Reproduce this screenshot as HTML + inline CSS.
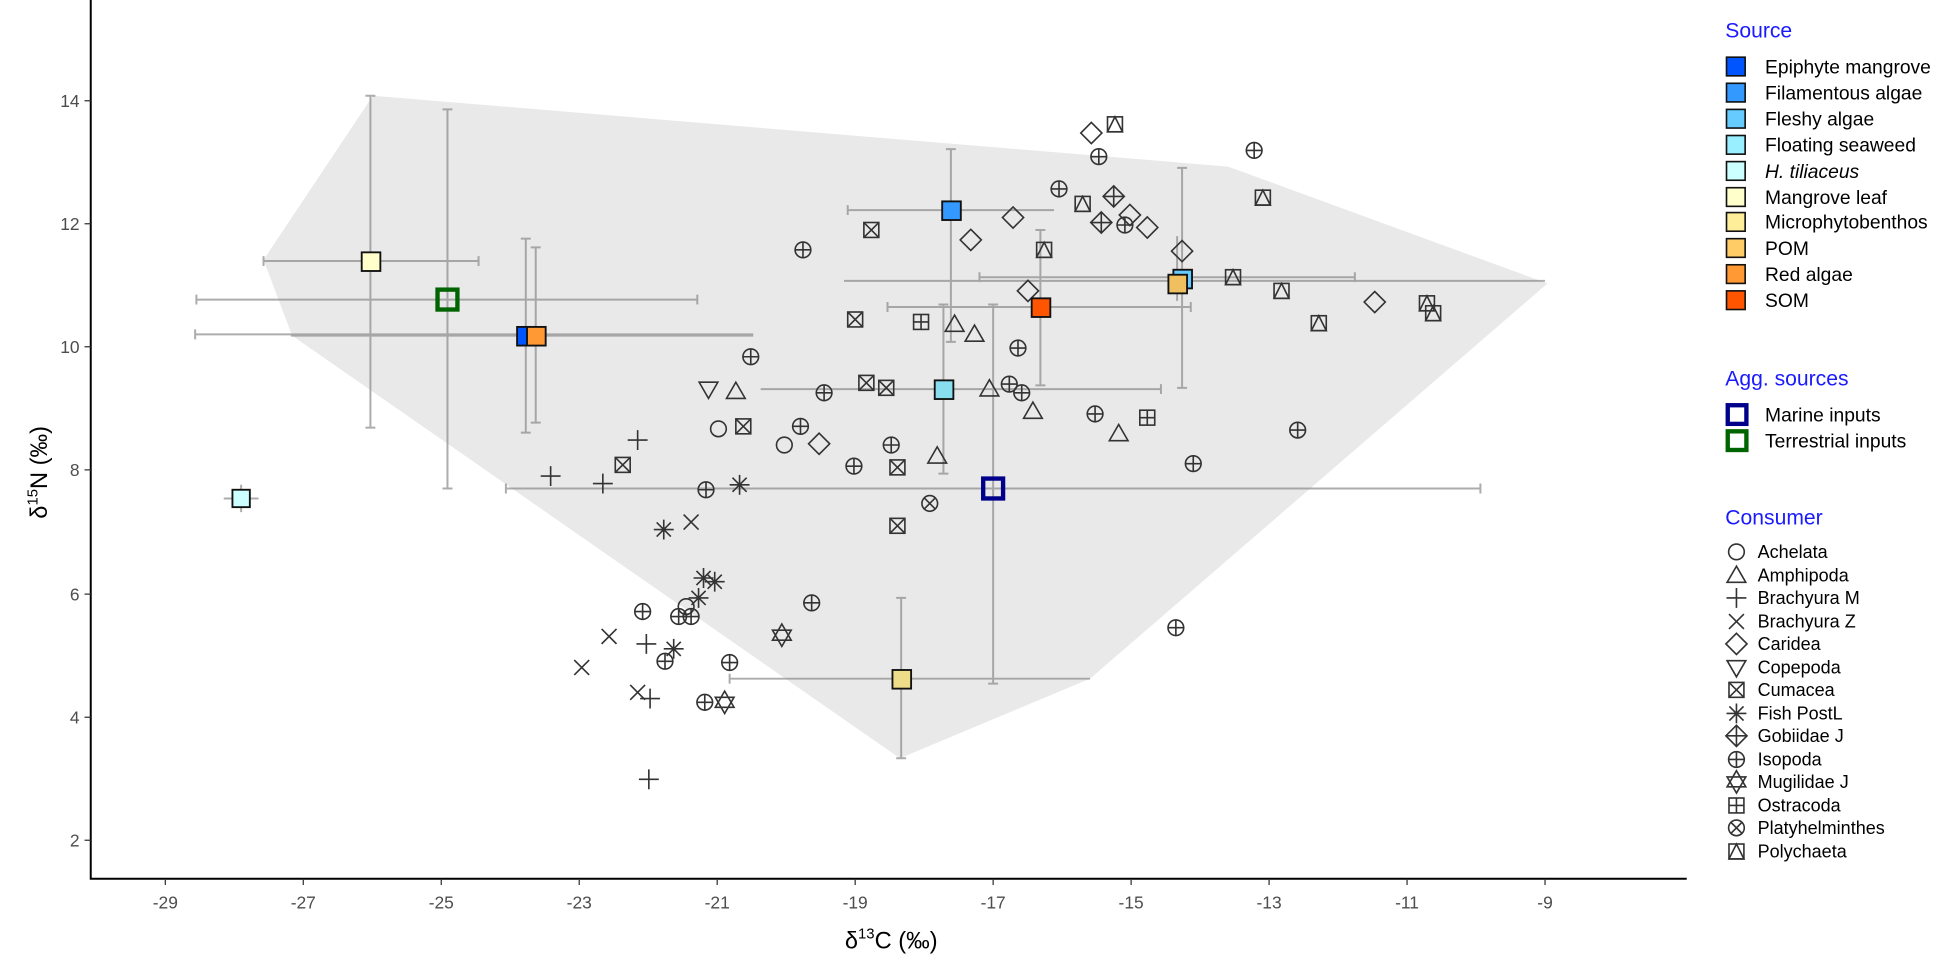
<!DOCTYPE html>
<html><head><meta charset="utf-8"><style>
html,body{margin:0;padding:0;background:#fff;}
svg{display:block;font-family:"Liberation Sans",sans-serif;}
.m{fill:none;stroke:#333;stroke-width:1.3;}
.eb{stroke:#8a8a8a;stroke-width:1.6;opacity:.7;fill:none;}
.tk{font-size:14px;fill:#4d4d4d;}
.lg{font-size:15.5px;fill:#000;}
.lc{font-size:14.5px;fill:#000;}
.tt{font-size:17px;fill:#1a1aff;}
</style></head><body>
<svg width="1949" height="958" viewBox="0 0 1568 770.7" xmlns="http://www.w3.org/2000/svg">
<defs>
<g id="circ"><circle r="6.3"/></g>
<g id="tri"><polygon points="0,-7.5 7.5,5.5 -7.5,5.5"/></g>
<g id="plus"><path d="M-8,0H8M0,-8V8"/></g>
<g id="cross"><path d="M-6,-6L6,6M-6,6L6,-6"/></g>
<g id="diam"><polygon points="0,-8.5 8.5,0 0,8.5 -8.5,0"/></g>
<g id="dtri"><polygon points="0,7.5 7.5,-5.5 -7.5,-5.5"/></g>
<g id="sqx"><rect x="-6" y="-6" width="12" height="12"/><path d="M-6,-6L6,6M-6,6L6,-6"/></g>
<g id="star"><path d="M-8,0H8M0,-8V8M-5.7,-5.7L5.7,5.7M-5.7,5.7L5.7,-5.7"/></g>
<g id="dplus"><polygon points="0,-8.5 8.5,0 0,8.5 -8.5,0"/><path d="M-8.5,0H8.5M0,-8.5V8.5"/></g>
<g id="cplus"><circle r="6.3"/><path d="M-6.3,0H6.3M0,-6.3V6.3"/></g>
<g id="star6"><polygon points="0,-9 7.5,4 -7.5,4"/><polygon points="0,9 7.5,-4 -7.5,-4"/></g>
<g id="sqplus"><rect x="-6" y="-6" width="12" height="12"/><path d="M-6,0H6M0,-6V6"/></g>
<g id="cx"><circle r="6.3"/><path d="M-4.5,-4.5L4.5,4.5M-4.5,4.5L4.5,-4.5"/></g>
<g id="sqtri"><rect x="-6" y="-6" width="12" height="12"/><polygon points="0,-6 6,6 -6,6"/></g>
</defs>

<polygon points="212,209 300,77 988,134 1245,228 877,546 724,610 235,270" fill="#e9e9e9"/>

<path d="M73,0V707H1357" stroke="#000" stroke-width="1.6" fill="none"/>
<g stroke="#333" stroke-width="1">
<path d="M68,81H73M68,180H73M68,279H73M68,378H73M68,478H73M68,577H73M68,676H73"/>
<path d="M133,707V712M244,707V712M355,707V712M466,707V712M577,707V712M688,707V712M799,707V712M910,707V712M1021,707V712M1132,707V712M1243,707V712"/>
</g>
<g class="tk" text-anchor="end">
<text x="64" y="86">14</text><text x="64" y="185">12</text><text x="64" y="284">10</text><text x="64" y="383">8</text><text x="64" y="483">6</text><text x="64" y="582">4</text><text x="64" y="681">2</text>
</g>
<g class="tk" text-anchor="middle">
<text x="133" y="731">-29</text><text x="244" y="731">-27</text><text x="355" y="731">-25</text><text x="466" y="731">-23</text><text x="577" y="731">-21</text><text x="688" y="731">-19</text><text x="799" y="731">-17</text><text x="910" y="731">-15</text><text x="1021" y="731">-13</text><text x="1132" y="731">-11</text><text x="1243" y="731">-9</text>
</g>
<text x="717" y="763" text-anchor="middle" font-size="19">δ<tspan font-size="12" dy="-8">13</tspan><tspan dy="8">C (‰)</tspan></text>
<text transform="translate(38,380) rotate(-90)" text-anchor="middle" font-size="19">δ<tspan font-size="12" dy="-8">15</tspan><tspan dy="8">N (‰)</tspan></text>

<g class="eb">
<path d="M212,210H385M212,206V214M385,206V214M298,77V344M294,77H302M294,344H302"/>
<path d="M158,241H561M158,237V245M561,237V245M360,88V393M356,88H364M356,393H364"/>
<path d="M157,269H606M157,265V273M423,192V348M419,192H427M419,348H427"/>
<path d="M234,270H606M431,199V340M427,199H435M427,340H435"/>
<path d="M180,401H208M194,390V412"/>
<path d="M682,169H848M682,165V173M765,120V275M761,120H769M761,275H769"/>
<path d="M612,313H934M934,309V317M759,245V381M755,245H763M755,381H763"/>
<path d="M679,226H1243M951,135V312M947,135H955M947,312H955"/>
<path d="M788,223H1090M788,219V227M1090,219V227M947,190V242"/>
<path d="M714,247H958M714,243V251M958,243V251M837,185V310M833,185H841M833,310H841"/>
<path d="M407,393H1191M407,389V397M1191,389V397M799,245V550M795,245H803M795,550H803"/>
<path d="M587,546H877M587,542V550M725,481V610M721,481H729M721,610H729"/>
</g>

<g class="m">
<use href="#circ" x="578" y="345"/><use href="#circ" x="631" y="358"/><use href="#circ" x="552" y="488"/>
<use href="#tri" x="592" y="315"/><use href="#tri" x="768" y="261"/><use href="#tri" x="784" y="269"/><use href="#tri" x="796" y="313"/><use href="#tri" x="831" y="331"/><use href="#tri" x="900" y="349"/><use href="#tri" x="754" y="367"/>
<use href="#plus" x="513" y="354"/><use href="#plus" x="443" y="383"/><use href="#plus" x="485" y="389"/><use href="#plus" x="520" y="518"/><use href="#plus" x="523" y="562"/><use href="#plus" x="522" y="627"/>
<use href="#cross" x="556" y="420"/><use href="#cross" x="490" y="512"/><use href="#cross" x="468" y="537"/><use href="#cross" x="513" y="557"/>
<use href="#diam" x="659" y="357"/><use href="#diam" x="781" y="193"/><use href="#diam" x="815" y="175"/><use href="#diam" x="827" y="234"/><use href="#diam" x="878" y="107"/><use href="#diam" x="909" y="173"/><use href="#diam" x="923" y="183"/><use href="#diam" x="951" y="202"/><use href="#diam" x="1106" y="243"/>
<use href="#dtri" x="570" y="313"/>
<use href="#sqx" x="701" y="185"/><use href="#sqx" x="688" y="257"/><use href="#sqx" x="697" y="308"/><use href="#sqx" x="713" y="312"/><use href="#sqx" x="598" y="343"/><use href="#sqx" x="501" y="374"/><use href="#sqx" x="722" y="376"/><use href="#sqx" x="722" y="423"/>
<use href="#star" x="595" y="390"/><use href="#star" x="534" y="426"/><use href="#star" x="566" y="465"/><use href="#star" x="575" y="468"/><use href="#star" x="562" y="481"/><use href="#star" x="542" y="522"/>
<use href="#dplus" x="896" y="158"/><use href="#dplus" x="886" y="179"/>
<use href="#cplus" x="646" y="201"/><use href="#cplus" x="604" y="287"/><use href="#cplus" x="644" y="343"/><use href="#cplus" x="663" y="316"/><use href="#cplus" x="819" y="280"/><use href="#cplus" x="812" y="309"/><use href="#cplus" x="822" y="316"/><use href="#cplus" x="881" y="333"/><use href="#cplus" x="960" y="373"/><use href="#cplus" x="1044" y="346"/><use href="#cplus" x="717" y="358"/><use href="#cplus" x="687" y="375"/><use href="#cplus" x="568" y="394"/><use href="#cplus" x="517" y="492"/><use href="#cplus" x="546" y="496"/><use href="#cplus" x="556" y="496"/><use href="#cplus" x="653" y="485"/><use href="#cplus" x="587" y="533"/><use href="#cplus" x="567" y="565"/><use href="#cplus" x="535" y="532"/><use href="#cplus" x="852" y="152"/><use href="#cplus" x="884" y="126"/><use href="#cplus" x="905" y="181"/><use href="#cplus" x="1009" y="121"/><use href="#cplus" x="946" y="505"/>
<use href="#star6" x="629" y="511"/><use href="#star6" x="583" y="565"/>
<use href="#sqplus" x="741" y="259"/><use href="#sqplus" x="923" y="336"/>
<use href="#cx" x="748" y="405"/>
<use href="#sqtri" x="897" y="100"/><use href="#sqtri" x="871" y="164"/><use href="#sqtri" x="840" y="201"/><use href="#sqtri" x="1016" y="159"/><use href="#sqtri" x="992" y="223"/><use href="#sqtri" x="1031" y="234"/><use href="#sqtri" x="1148" y="244"/><use href="#sqtri" x="1153" y="252"/><use href="#sqtri" x="1061" y="260"/>
</g>

<g stroke="#111" stroke-width="1.5">
<rect x="291" y="203" width="15" height="15" fill="#ffffcc"/>
<rect x="416" y="263" width="15" height="15" fill="#0055ff"/>
<rect x="424" y="263" width="15" height="15" fill="#ff9933"/>
<rect x="187" y="394" width="14" height="14" fill="#ccffff"/>
<rect x="758" y="162" width="15" height="15" fill="#3399ff"/>
<rect x="752" y="306" width="15" height="15" fill="#88ddee"/>
<rect x="944" y="217" width="15" height="15" fill="#66ccff"/>
<rect x="940" y="221" width="15" height="15" fill="#f0c060"/>
<rect x="830" y="240" width="15" height="15" fill="#ff5500"/>
<rect x="718" y="539" width="15" height="15" fill="#eedd88"/>
</g>
<rect x="352" y="233" width="16" height="16" fill="none" stroke="#006400" stroke-width="3.5"/>
<rect x="791" y="385" width="16" height="16" fill="none" stroke="#00008b" stroke-width="3.5"/>

<text class="tt" x="1388" y="30">Source</text>
<g stroke="#111" stroke-width="1.3">
<rect x="1389" y="46" width="15" height="15" fill="#0055ff"/>
<rect x="1389" y="67" width="15" height="15" fill="#3399ff"/>
<rect x="1389" y="88" width="15" height="15" fill="#66ccff"/>
<rect x="1389" y="109" width="15" height="15" fill="#99eeff"/>
<rect x="1389" y="130" width="15" height="15" fill="#ccffff"/>
<rect x="1389" y="151" width="15" height="15" fill="#ffffcc"/>
<rect x="1389" y="171" width="15" height="15" fill="#ffee99"/>
<rect x="1389" y="192" width="15" height="15" fill="#ffcc66"/>
<rect x="1389" y="213" width="15" height="15" fill="#ff9933"/>
<rect x="1389" y="234" width="15" height="15" fill="#ff5500"/>
</g>
<g class="lg">
<text x="1420" y="59">Epiphyte mangrove</text>
<text x="1420" y="80">Filamentous algae</text>
<text x="1420" y="101">Fleshy algae</text>
<text x="1420" y="122">Floating seaweed</text>
<text x="1420" y="143" font-style="italic">H. tiliaceus</text>
<text x="1420" y="164">Mangrove leaf</text>
<text x="1420" y="184">Microphytobenthos</text>
<text x="1420" y="205">POM</text>
<text x="1420" y="226">Red algae</text>
<text x="1420" y="247">SOM</text>
</g>
<text class="tt" x="1388" y="310">Agg. sources</text>
<rect x="1390" y="326" width="15" height="15" fill="none" stroke="#00008b" stroke-width="3.5"/>
<rect x="1390" y="347" width="15" height="15" fill="none" stroke="#006400" stroke-width="3.5"/>
<g class="lg"><text x="1420" y="339">Marine inputs</text><text x="1420" y="360">Terrestrial inputs</text></g>
<text class="tt" x="1388" y="422">Consumer</text>
<g class="m">
<use href="#circ" x="1397" y="444"/><use href="#tri" x="1397" y="463"/><use href="#plus" x="1397" y="481"/><use href="#cross" x="1397" y="500"/><use href="#diam" x="1397" y="518"/><use href="#dtri" x="1397" y="537"/><use href="#sqx" x="1397" y="555"/><use href="#star" x="1397" y="574"/><use href="#dplus" x="1397" y="592"/><use href="#cplus" x="1397" y="611"/><use href="#star6" x="1397" y="629"/><use href="#sqplus" x="1397" y="648"/><use href="#cx" x="1397" y="666"/><use href="#sqtri" x="1397" y="685"/>
</g>
<g class="lc">
<text x="1414" y="449">Achelata</text><text x="1414" y="468">Amphipoda</text><text x="1414" y="486">Brachyura M</text><text x="1414" y="505">Brachyura Z</text><text x="1414" y="523">Caridea</text><text x="1414" y="542">Copepoda</text><text x="1414" y="560">Cumacea</text><text x="1414" y="579">Fish PostL</text><text x="1414" y="597">Gobiidae J</text><text x="1414" y="616">Isopoda</text><text x="1414" y="634">Mugilidae J</text><text x="1414" y="653">Ostracoda</text><text x="1414" y="671">Platyhelminthes</text><text x="1414" y="690">Polychaeta</text>
</g>
</svg>
</body></html>
